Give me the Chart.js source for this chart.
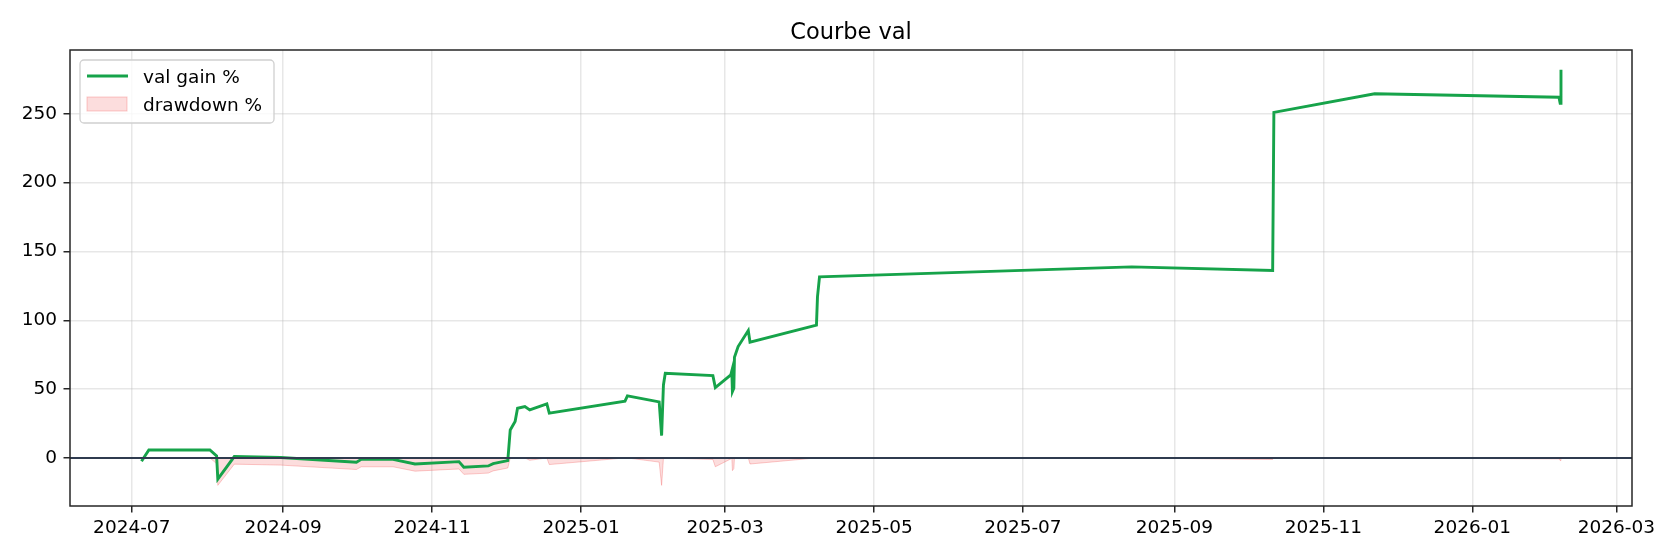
<!DOCTYPE html>
<html>
<head>
<meta charset="utf-8">
<title>Courbe val</title>
<script src="https://cdn.jsdelivr.net/npm/chart.js@4.4.1/dist/chart.umd.min.js"></script>
<style>
  html, body { margin: 0; padding: 0; background: #fff; }
  #wrap { width: 1680px; height: 560px; }
</style>
</head>
<body>
<div id="wrap"><canvas id="courbe" width="1680" height="560"></canvas></div>
<script>
// points of the curve (UTC)
const dates = [
  '2024-07-05', '2024-07-08', '2024-08-02', '2024-08-04T18:00', '2024-08-05T06:00',
  '2024-08-12', '2024-08-31', '2024-10-01', '2024-10-03', '2024-10-16',
  '2024-10-25', '2024-11-12', '2024-11-14', '2024-11-24', '2024-11-26',
  '2024-12-02', '2024-12-03', '2024-12-05', '2024-12-06', '2024-12-09',
  '2024-12-11', '2024-12-18', '2024-12-19', '2025-01-19', '2025-01-20',
  '2025-02-02', '2025-02-03T00:00', '2025-02-03T18:00', '2025-02-04T12:00', '2025-02-24',
  '2025-02-25', '2025-03-03T08:00', '2025-03-03T18:00', '2025-03-04T00:00', '2025-03-04T14:00',
  '2025-03-04T20:00', '2025-03-06T08:00', '2025-03-10T12:00', '2025-03-11T05:00', '2025-04-07T10:00',
  '2025-04-07T20:00', '2025-04-08T16:00', '2025-08-14T12:00', '2025-10-11T06:00', '2025-10-11T18:00',
  '2025-11-22', '2026-02-05T12:00', '2026-02-06T00:00', '2026-02-06T08:00'
];

// val gain %
const gainPct = [
  -2.4, 5.8, 5.8, 1.5, -15.3,
  1.0, 0.3, -3.1, -1.0, -1.0,
  -4.4, -2.7, -6.8, -5.8, -4.1,
  -1.9, 20.3, 26.4, 36.1, 37.3,
  34.9, 39.2, 32.5, 41.2, 45.1,
  40.7, 16.2, 53.0, 61.5, 59.8,
  51.1, 60.3, 63.2, 48.2, 50.6,
  73.2, 80.9, 92.5, 84.1, 96.5,
  117.0, 131.5, 138.8, 136.1, 251.0,
  264.5, 262.0, 257.5, 282.0
];

// drawdown % (same dates)
const drawdownPct = [
  0, 0, 0, -4.1, -19.9,
  -4.5, -5.2, -8.4, -6.4, -6.4,
  -9.6, -8.0, -11.9, -11.0, -9.4,
  -7.3, 0, 0, 0, 0,
  -1.7, 0, -4.8, 0, 0,
  -3.0, -19.9, 0, 0, -1.1,
  -6.4, -0.7, 0, -9.2, -7.7,
  0, 0, 0, -4.4, 0,
  0, 0, 0, -1.1, 0,
  0, -0.7, -1.9, 0
];

const xTickLabels = ['2024-07', '2024-09', '2024-11', '2025-01', '2025-03', '2025-05',
                     '2025-07', '2025-09', '2025-11', '2026-01', '2026-03'];
const yTickValues = [0, 50, 100, 150, 200, 250];

function toMs(s) {
  if (s.length === 7) s = s + '-01';
  return Date.parse(s.length === 10 ? s + 'T00:00:00Z' : s + ':00Z');
}

const FONT = 'DejaVu Sans';
const GREEN = '#16a34a';
const DD_FILL = 'rgba(239,68,68,0.18)';
const DD_EDGE = 'rgba(239,68,68,0.28)';

// frame, zero line, legend and title drawn on top of the datasets
const decorations = {
  id: 'decorations',
  afterDatasetsDraw(chart) {
    const c = chart.ctx;
    const a = chart.chartArea;
    const y0 = chart.scales.y.getPixelForValue(0);
    c.save();
    c.strokeStyle = '#2f3b4f';
    c.lineWidth = 1.9;
    c.beginPath();
    c.moveTo(a.left, y0);
    c.lineTo(a.right, y0);
    c.stroke();

    c.strokeStyle = '#262626';
    c.lineWidth = 1.5;
    c.strokeRect(a.left, a.top, a.right - a.left, a.bottom - a.top);

    // legend
    const lx = a.left + 10, ly = a.top + 10, lw = 194, lh = 63;
    c.beginPath();
    c.roundRect(lx, ly, lw, lh, 4);
    c.fillStyle = 'rgba(255,255,255,0.8)';
    c.fill();
    c.strokeStyle = '#d0d0d0';
    c.lineWidth = 1.3;
    c.stroke();

    c.strokeStyle = GREEN;
    c.lineWidth = 2.9;
    c.beginPath();
    c.moveTo(lx + 7, ly + 16);
    c.lineTo(lx + 48, ly + 16);
    c.stroke();

    c.fillStyle = DD_FILL;
    c.fillRect(lx + 7, ly + 37, 40, 14);
    c.strokeStyle = DD_EDGE;
    c.lineWidth = 1;
    c.strokeRect(lx + 7, ly + 37, 40, 14);

    c.fillStyle = '#000';
    c.font = '18.5px "' + FONT + '"';
    c.textAlign = 'left';
    c.textBaseline = 'alphabetic';
    c.fillText(chart.data.datasets[0].label, lx + 63, ly + 22.5);
    c.fillText(chart.data.datasets[1].label, lx + 63, ly + 51);

    // title
    c.font = '22.5px "' + FONT + '"';
    c.textAlign = 'center';
    c.fillText('Courbe val', (a.left + a.right) / 2, a.top - 11);
    c.restore();
  }
};

const ctx = document.getElementById('courbe');

const chart = new Chart(ctx, {
  type: 'line',
  data: {
    datasets: [
      {
        label: 'val gain %',
        data: dates.map((d, i) => ({ x: toMs(d), y: gainPct[i] })),
        borderColor: GREEN,
        borderWidth: 2.9,
        pointRadius: 0,
        tension: 0,
        fill: false
      },
      {
        label: 'drawdown %',
        data: dates.map((d, i) => ({ x: toMs(d), y: drawdownPct[i] })),
        borderColor: DD_EDGE,
        backgroundColor: DD_FILL,
        borderWidth: 1,
        pointRadius: 0,
        tension: 0,
        fill: 'origin'
      }
    ]
  },
  options: {
    responsive: false,
    animation: false,
    devicePixelRatio: 1,
    layout: { padding: { top: 50, right: 48, bottom: 0, left: 0 } },
    plugins: {
      legend: { display: false },
      title: { display: false },
      tooltip: { enabled: false }
    },
    scales: {
      x: {
        type: 'linear',
        min: toMs('2024-06-05T17:00'),
        max: toMs('2026-03-07T10:00'),
        afterBuildTicks: s => { s.ticks = xTickLabels.map(l => ({ value: toMs(l) })); },
        afterFit: s => { s.height = 54; },
        border: { display: false },
        grid: {
          color: 'rgba(176,176,176,0.3)',
          lineWidth: 1.5,
          tickColor: '#262626',
          tickLength: 6.5,
          tickWidth: 1.5
        },
        ticks: {
          autoSkip: false,
          maxRotation: 0,
          padding: 5,
          color: '#000',
          font: { family: FONT, size: 18.5 },
          callback: (v, i) => xTickLabels[i]
        }
      },
      y: {
        min: -34.9,
        max: 296.3,
        afterBuildTicks: s => { s.ticks = yTickValues.map(v => ({ value: v })); },
        afterFit: s => { s.width = 70; },
        border: { display: false },
        grid: {
          color: 'rgba(176,176,176,0.3)',
          lineWidth: 1.5,
          tickColor: '#262626',
          tickLength: 6.5,
          tickWidth: 1.5
        },
        ticks: {
          padding: 6.5,
          color: '#000',
          font: { family: FONT, size: 18.5 },
          callback: v => String(v)
        }
      }
    }
  },
  plugins: [decorations]
});
</script>
</body>
</html>
